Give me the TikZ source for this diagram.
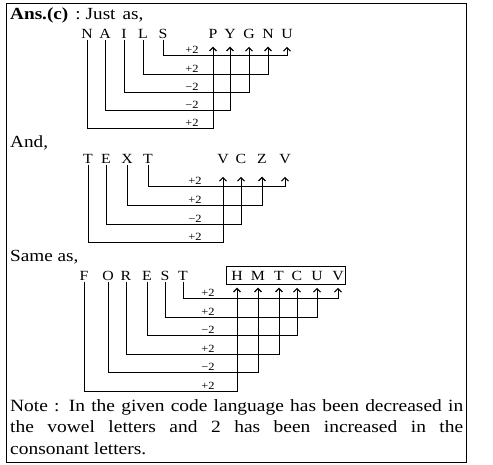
\documentclass[tikz,border=0pt]{standalone}
\usepackage{fontspec}
\setmainfont{Liberation Serif}[FakeStretch=1.13]
\usetikzlibrary{arrows.meta}

\tikzset{
  txt/.style={anchor=base west,inner sep=0pt,font=\fontsize{17}{19}\selectfont},
  ltr/.style={anchor=base,inner sep=1.5pt,font=\fontsize{14}{16}\selectfont},
  lbl/.style={anchor=base,inner sep=0pt,font=\fontsize{11}{13}\selectfont},
  link/.style={line width=1pt,-{Straight Barb[length=3.5pt,width=7pt,line width=1.1pt]}}
}

\begin{document}
\begin{tikzpicture}[x=1pt,y=-1pt]
\useasboundingbox (0,0) rectangle (493,464);
\draw[line width=0.8pt] (6,3) rectangle (466,462);

\node[txt] (hd1) at (10,19) {\textbf{Ans.(c)}\hspace{7pt}:\hspace{5pt}Just\hspace{7pt}as,};
\node[txt] (hd2) at (10,147) {And,};
\node[txt] (hd3) at (10,261) {Same as,};

% NAILS -> PYGNU
\node[ltr] (n1) at (87,38) {N};
\node[ltr] (n2) at (105,38) {A};
\node[ltr] (n3) at (124,38) {I};
\node[ltr] (n4) at (143,38) {L};
\node[ltr] (n5) at (163,38) {S};
\node[ltr] (p1) at (213,38) {P};
\node[ltr] (p2) at (230,38) {Y};
\node[ltr] (p3) at (249,38) {G};
\node[ltr] (p4) at (268,38) {N};
\node[ltr] (p5) at (287,38) {U};

\draw[link,shorten >=7pt] (n5.south) |- (p5.south |- 0,55) -- (p5.south);
\draw[link,shorten >=7pt] (n4.south) |- (p4.south |- 0,74) -- (p4.south);
\draw[link,shorten >=7pt] (n3.south) |- (p3.south |- 0,92) -- (p3.south);
\draw[link,shorten >=7pt] (n2.south) |- (p2.south |- 0,110) -- (p2.south);
\draw[link,shorten >=7pt] (n1.south) |- (p1.south |- 0,128) -- (p1.south);

\node[lbl] (a5) at (192,53) {+2};
\node[lbl] (a4) at (192,72) {+2};
\node[lbl] (a3) at (192,90) {−2};
\node[lbl] (a2) at (192,108) {−2};
\node[lbl] (a1) at (192,126) {+2};

% TEXT -> VCZV
\node[ltr] (t1) at (88,163) {T};
\node[ltr] (t2) at (106,163) {E};
\node[ltr] (t3) at (127,163) {X};
\node[ltr] (t4) at (148,163) {T};
\node[ltr] (v1) at (223,163) {V};
\node[ltr] (v2) at (241,163) {C};
\node[ltr] (v3) at (262,163) {Z};
\node[ltr] (v4) at (285,163) {V};

\draw[link,shorten >=12pt] (t4.south) |- (v4.south |- 0,186) -- (v4.south);
\draw[link,shorten >=12pt] (t3.south) |- (v3.south |- 0,205) -- (v3.south);
\draw[link,shorten >=12pt] (t2.south) |- (v2.south |- 0,224) -- (v2.south);
\draw[link,shorten >=12pt] (t1.south) |- (v1.south |- 0,242) -- (v1.south);

\node[lbl] (b4) at (195,184) {+2};
\node[lbl] (b3) at (195,203) {+2};
\node[lbl] (b2) at (195,222) {−2};
\node[lbl] (b1) at (195,240) {+2};

% FOREST -> HMTCUV
\node[ltr] (f1) at (84,280) {F};
\node[ltr] (f2) at (108,280) {O};
\node[ltr] (f3) at (126,280) {R};
\node[ltr] (f4) at (147,280) {E};
\node[ltr] (f5) at (165,280) {S};
\node[ltr] (f6) at (183,280) {T};
\node[ltr] (h1) at (237,280) {H};
\node[ltr] (h2) at (258,280) {M};
\node[ltr] (h3) at (279,280) {T};
\node[ltr] (h4) at (297,280) {C};
\node[ltr] (h5) at (317,280) {U};
\node[ltr] (h6) at (338,280) {V};
\draw[line width=0.8pt] (226,266) rectangle (345,284);

\draw[link,shorten >=6pt] (f6.south) |- (h6.south |- 0,298) -- (h6.south);
\draw[link,shorten >=6pt] (f5.south) |- (h5.south |- 0,317) -- (h5.south);
\draw[link,shorten >=6pt] (f4.south) |- (h4.south |- 0,335) -- (h4.south);
\draw[link,shorten >=6pt] (f3.south) |- (h3.south |- 0,354) -- (h3.south);
\draw[link,shorten >=6pt] (f2.south) |- (h2.south |- 0,372) -- (h2.south);
\draw[link,shorten >=6pt] (f1.south) |- (h1.south |- 0,391) -- (h1.south);

\node[lbl] (c6) at (208,296) {+2};
\node[lbl] (c5) at (208,315) {+2};
\node[lbl] (c4) at (208,333) {−2};
\node[lbl] (c3) at (208,352) {+2};
\node[lbl] (c2) at (208,370) {−2};
\node[lbl] (c1) at (208,389) {+2};

\node[anchor=north west,inner sep=0pt,text width=453pt,align=justify,
      font=\fontsize{17.2}{21.5}\selectfont] (note) at (10,399)
  {Note : In the given code language has been decreased in\linebreak the vowel letters and 2 has been increased in the\linebreak consonant letters.};
\end{tikzpicture}
\end{document}
